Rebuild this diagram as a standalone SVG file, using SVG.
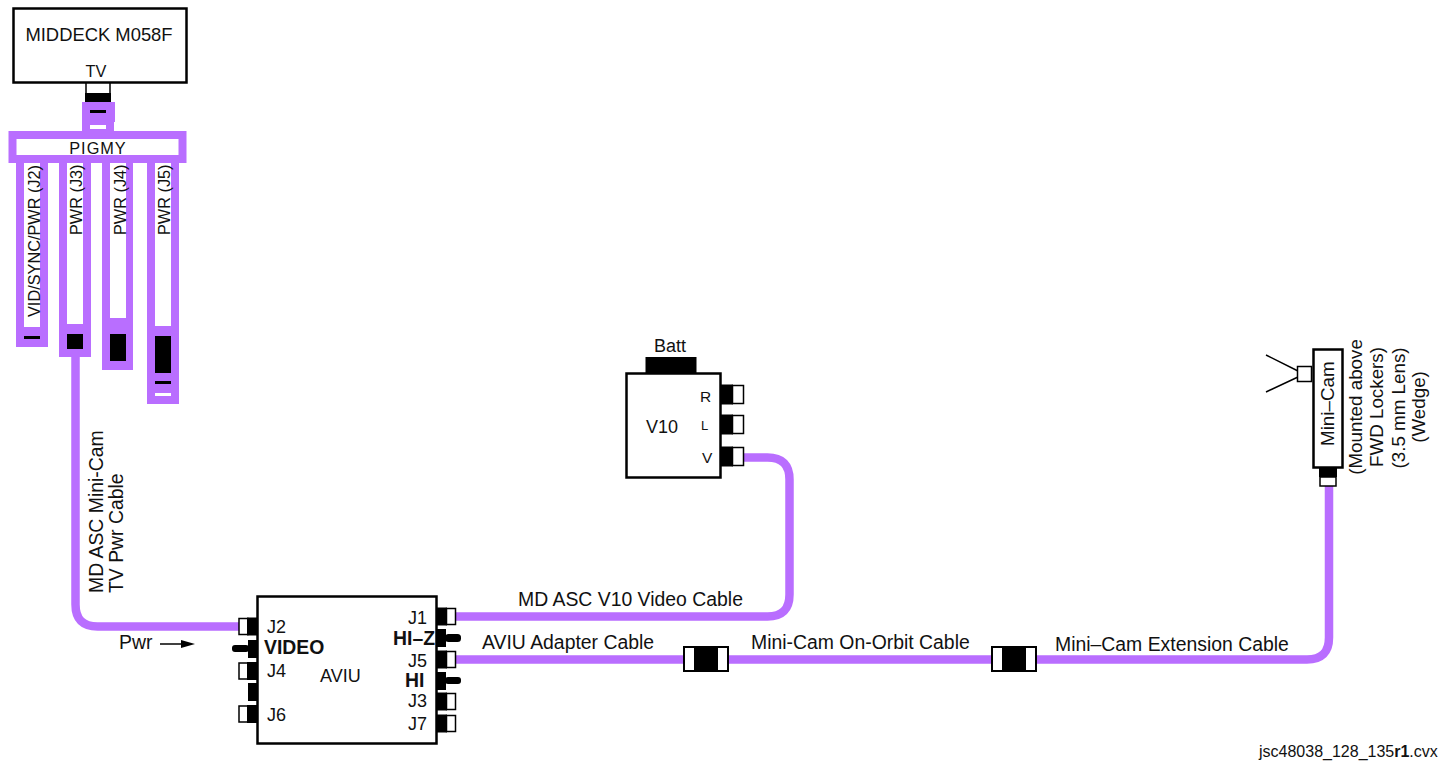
<svg xmlns="http://www.w3.org/2000/svg" width="1444" height="764" viewBox="0 0 1444 764">
<style>
text{font-family:"Liberation Sans",Arial,sans-serif;fill:#111;font-size:19.4px}
.b{font-weight:bold}
.s{font-size:16.3px}
.j{font-size:18px}
.m{font-size:18.8px;text-anchor:middle}
.box{fill:#fff;stroke:#000;stroke-width:2.5}
.port{fill:#fff;stroke:#000;stroke-width:1.5}
.k{fill:#000}
.p{fill:#b96eff}
.w{fill:#fff}
.cable{fill:none;stroke:#b96eff;stroke-width:8.500}
</style>
<rect width="1444" height="764" fill="#fff"/>
<g id="connectors">
<path class="cable" d="M75.500 355V604.500Q75.500 626.500 97.500 626.500H242"/>
<path class="cable" d="M455 616.500H767.500Q789.500 616.500 789.500 594.500V479.500Q789.500 457.500 767.500 457.500H742"/>
<path class="cable" d="M455 659.500H1307Q1329 659.500 1329 637.500V486"/>
</g>
<g id="middeck">
<rect class="box" x="13.500" y="8.500" width="173" height="74"/>
<text x="99" y="41" text-anchor="middle" style="font-size:18.400px">MIDDECK M058F</text>
<text class="s" x="96" y="77" text-anchor="middle">TV</text>
<rect class="port" x="86" y="83" width="24" height="11"/>
<rect class="k" x="85" y="93" width="26" height="9"/>
</g>
<g id="pigmy">
<rect class="p" x="82" y="102" width="33" height="20"/>
<rect class="k" x="90" y="110" width="16" height="3"/>
<rect class="p" x="82" y="120" width="32" height="12"/>
<rect class="w" x="90" y="125" width="16" height="4"/>
<rect class="w" stroke="#b96eff" stroke-width="8" x="12.500" y="135" width="170" height="24"/>
<text class="s" x="98" y="154" text-anchor="middle" letter-spacing="1">PIGMY</text>
<rect class="p" x="16" y="163" width="32" height="184"/>
<rect class="w" x="24" y="163" width="16" height="164"/>
<rect class="k" x="24" y="336" width="16" height="3"/>
<rect class="p" x="59" y="163" width="32" height="194"/>
<rect class="w" x="67" y="163" width="16" height="161"/>
<rect class="k" x="67" y="334" width="16" height="15"/>
<rect class="p" x="102" y="163" width="31" height="207"/>
<rect class="w" x="110" y="163" width="16" height="155"/>
<rect class="k" x="110" y="334" width="16" height="27"/>
<rect class="p" x="147" y="163" width="32" height="241"/>
<rect class="w" x="155" y="163" width="16" height="163"/>
<rect class="k" x="155" y="336" width="16" height="37"/>
<rect class="k" x="155" y="381" width="16" height="3"/>
<rect class="w" x="155" y="393" width="16" height="3"/>
<text class="s" transform="translate(40 317) rotate(-90)">VID/SYNC/PWR (J2)</text>
<text class="s" transform="translate(82 235) rotate(-90)">PWR (J3)</text>
<text class="s" transform="translate(126 235) rotate(-90)">PWR (J4)</text>
<text class="s" transform="translate(170 235) rotate(-90)">PWR (J5)</text>
</g>
<g id="cable-labels">
<text transform="translate(103 593) rotate(-90)">MD ASC Mini-Cam</text>
<text transform="translate(123 593) rotate(-90)">TV Pwr Cable</text>
<text x="119" y="649">Pwr</text>
<path d="M160 644H186" stroke="#000" stroke-width="1.500"/>
<path d="M195 644L181 640V648Z" class="k"/>
<text x="518" y="606">MD ASC V10 Video Cable</text>
<text x="482" y="649">AVIU Adapter Cable</text>
<text x="751" y="649">Mini-Cam On-Orbit Cable</text>
<text x="1055" y="651">Mini–Cam Extension Cable</text>
</g>
<g id="aviu">
<rect class="box" x="257.500" y="596.500" width="179" height="147"/>
<text class="j" x="320" y="682">AVIU</text>
<text class="j" x="267" y="633">J2</text>
<text class="j" x="267" y="677">J4</text>
<text class="j" x="267" y="721">J6</text>
<text class="j" x="408" y="624">J1</text>
<text class="j" x="408" y="667">J5</text>
<text class="j" x="408" y="707">J3</text>
<text class="j" x="408" y="730">J7</text>
<text class="b" x="264" y="654">VIDEO</text>
<text class="b" x="393" y="645">HI–Z</text>
<text class="b" x="405" y="687">HI</text>
<rect class="port" x="239" y="618.500" width="9" height="16"/><rect class="k" x="247" y="617.500" width="11" height="18"/>
<rect class="port" x="239" y="663" width="9" height="16"/><rect class="k" x="247" y="662" width="11" height="18"/>
<rect class="port" x="239" y="706" width="9" height="16"/><rect class="k" x="247" y="705" width="11" height="18"/>
<rect class="k" x="248" y="683" width="10" height="18"/>
<rect class="k" x="248" y="640" width="10" height="18"/><rect class="k" x="232" y="645" width="17" height="7" rx="3"/>
<rect class="port" x="446.500" y="608.500" width="9" height="16"/><rect class="k" x="437" y="607.500" width="10" height="18"/>
<rect class="port" x="446.500" y="651.500" width="9" height="16"/><rect class="k" x="437" y="650.500" width="10" height="18"/>
<rect class="port" x="446.500" y="693.500" width="9" height="16"/><rect class="k" x="437" y="692.500" width="10" height="18"/>
<rect class="port" x="446.500" y="715.500" width="9" height="16"/><rect class="k" x="437" y="714.500" width="10" height="18"/>
<rect class="k" x="437" y="629" width="9" height="18"/><rect class="k" x="445" y="634" width="16" height="8" rx="3.500"/>
<rect class="k" x="437" y="672" width="9" height="18"/><rect class="k" x="445" y="677" width="16" height="7" rx="3"/>
</g>
<g id="v10">
<rect class="k" x="645.500" y="357" width="51" height="17"/>
<rect class="box" x="626.500" y="373.500" width="94" height="104"/>
<text class="j" x="654" y="352">Batt</text>
<text class="j" x="646" y="433">V10</text>
<text x="700" y="402" style="font-size:15.500px">R</text>
<text x="701" y="430" style="font-size:13px">L</text>
<text x="702" y="463" style="font-size:15.500px">V</text>
<rect class="port" x="732.500" y="385.500" width="11" height="18"/><rect class="k" x="720" y="384.500" width="13" height="20"/>
<rect class="port" x="732.500" y="415.500" width="11" height="18"/><rect class="k" x="720" y="414.500" width="13" height="20"/>
<rect class="port" x="732.500" y="447.500" width="11" height="18"/><rect class="k" x="720" y="446.500" width="13" height="20"/>
</g>
<g id="inline-1">
<rect class="k" x="683" y="646" width="46" height="26"/>
<rect class="w" x="685" y="648" width="9" height="22"/><rect class="w" x="718" y="648" width="9" height="22"/>
</g>
<g id="inline-2">
<rect class="k" x="991" y="646" width="46" height="26"/>
<rect class="w" x="993" y="648" width="9" height="22"/><rect class="w" x="1026" y="648" width="9" height="22"/>
</g>
<g id="minicam">
<path d="M1266 355L1298 371M1298 377L1266 392" fill="none" stroke="#000" stroke-width="1.500"/>
<rect class="port" x="1297.500" y="366.500" width="14" height="15"/>
<rect class="box" x="1313.500" y="349.500" width="29" height="118"/>
<text transform="translate(1334 446) rotate(-90)" style="font-size:18.800px">Mini–Cam</text>
<rect class="k" x="1319" y="468" width="18" height="9"/>
<rect class="port" x="1320" y="477" width="16" height="9"/>
<text class="m" transform="translate(1362 407) rotate(-90)">(Mounted above</text>
<text class="m" transform="translate(1383 407) rotate(-90)">FWD Lockers)</text>
<text class="m" transform="translate(1405 408) rotate(-90)">(3.5 mm Lens)</text>
<text class="m" transform="translate(1425 407) rotate(-90)">(Wedge)</text>
</g>
<text x="1259" y="757" style="font-size:16px">jsc48038_128_135<tspan font-weight="bold">r1</tspan>.cvx</text>
</svg>
